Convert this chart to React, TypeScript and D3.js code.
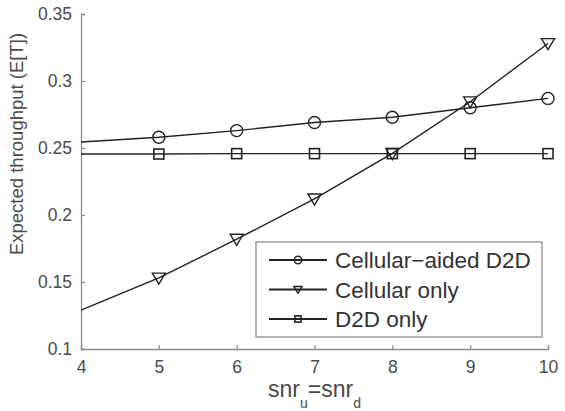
import React, { useEffect, useRef } from "react";
import * as d3 from "d3";

const snr = [4, 5, 6, 7, 8, 9, 10];
const cellularAided = [0.2545, 0.258, 0.263, 0.269, 0.273, 0.28, 0.287];
const cellularOnly = [0.129, 0.153, 0.182, 0.212, 0.246, 0.2845, 0.328];
const d2dOnly = [0.2455, 0.2455, 0.2458, 0.2458, 0.2458, 0.2458, 0.2458];
const xTicks = [4, 5, 6, 7, 8, 9, 10];
const yTicks = [0.1, 0.15, 0.2, 0.25, 0.3, 0.35];
const seriesNames = ["Cellular\u2212aided D2D", "Cellular only", "D2D only"];
const markers = ["circle", "triangle", "square"];

const W = 565, H = 411;
const FONT = "'Liberation Sans', Arial, Helvetica, sans-serif";

export default function App() {
  const ref = useRef<SVGSVGElement | null>(null);

  useEffect(() => {
    const svg = d3.select(ref.current);
    svg.selectAll("*").remove();

    const left = 81, right = 548, top = 14, bottom = 349;
    const x = d3.scaleLinear().domain([4, 10]).range([left, right]);
    const y = d3.scaleLinear().domain([0.1, 0.35]).range([bottom, top]);

    const axisColor = "#8a8a8a";
    const textColor = "#4a4a4a";

    // axes
    const gx = svg.append("g").attr("transform", "translate(0," + bottom + ")");
    gx.call(d3.axisBottom(x).tickValues(xTicks).tickSize(-4).tickPadding(12).tickFormat(d3.format("d")) as any);
    const gy = svg.append("g").attr("transform", "translate(" + left + ",0)");
    gy.call(d3.axisLeft(y).tickValues(yTicks).tickSize(-4).tickPadding(9).tickFormat((d: any) => String(+d)) as any);

    [gx, gy].forEach(g => {
      g.select(".domain").attr("stroke", axisColor).attr("stroke-width", 1.3);
      g.selectAll(".tick line").attr("stroke", axisColor).attr("stroke-width", 1.2);
      g.selectAll(".tick text")
        .attr("fill", textColor)
        .style("font-family", FONT)
        .style("font-size", "17.5px");
    });

    // axis titles
    svg.append("text")
      .attr("transform", "translate(23,144) rotate(-90)")
      .attr("text-anchor", "middle")
      .attr("fill", textColor)
      .style("font-family", FONT)
      .style("font-size", "18.5px")
      .text("Expected throughput (E[T])");

    const xt = svg.append("text")
      .attr("x", (left + right) / 2)
      .attr("y", 397)
      .attr("text-anchor", "middle")
      .attr("fill", textColor)
      .style("font-family", FONT)
      .style("font-size", "23px");
    xt.append("tspan").text("snr");
    xt.append("tspan").attr("dy", 11).style("font-size", "14px").text("u");
    xt.append("tspan").attr("dy", -11).text("=snr");
    xt.append("tspan").attr("dy", 11).style("font-size", "14px").text("d");

    const drawMarker = (g: any, kind: string, cx: number, cy: number, k = 1) => {
      if (kind === "circle") {
        g.append("circle").attr("cx", cx).attr("cy", cy).attr("r", 6 * k)
          .attr("fill", "none").attr("stroke", "#222").attr("stroke-width", 1.4);
      } else if (kind === "square") {
        const h = 5 * k;
        g.append("rect").attr("x", cx - h).attr("y", cy - h).attr("width", 2 * h).attr("height", 2 * h)
          .attr("fill", "none").attr("stroke", "#222").attr("stroke-width", 1.6);
      } else {
        const s = 6.5 * k;
        g.append("path")
          .attr("d", `M${cx - s},${cy - s * 0.75}L${cx + s},${cy - s * 0.75}L${cx},${cy + s * 0.95}Z`)
          .attr("fill", "none").attr("stroke", "#222").attr("stroke-width", 1.4);
      }
    };

    const allSeries = [cellularAided, cellularOnly, d2dOnly];
    const line = d3.line<number>().x((_, i) => x(snr[i])).y(d => y(d));
    const plot = svg.append("g");
    allSeries.forEach(vals => {
      plot.append("path")
        .attr("d", line(vals) as string)
        .attr("fill", "none")
        .attr("stroke", "#222")
        .attr("stroke-width", 1.4);
    });
    allSeries.forEach((vals, si) => {
      vals.forEach((v, i) => {
        if (i === 0) return;
        drawMarker(plot, markers[si], x(snr[i]), y(v));
      });
    });

    // legend
    const lg = svg.append("g");
    lg.append("rect")
      .attr("x", 256).attr("y", 242).attr("width", 286).attr("height", 95)
      .attr("fill", "white").attr("stroke", axisColor).attr("stroke-width", 1.3);
    seriesNames.forEach((name, i) => {
      const ly = 260 + i * 29.5;
      lg.append("line").attr("x1", 269).attr("x2", 327).attr("y1", ly).attr("y2", ly)
        .attr("stroke", "#222").attr("stroke-width", 1.8);
      drawMarker(lg, markers[i], 298, ly, 0.62);
      lg.append("text")
        .attr("x", 335).attr("y", ly).attr("dy", "0.36em")
        .attr("fill", "#333")
        .style("font-family", FONT)
        .style("font-size", "22.5px")
        .text(name);
    });
  }, []);

  return (
    <svg ref={ref} width={W} height={H}
      style={{ position: "absolute", left: 0, top: 0, background: "white" }} />
  );
}
